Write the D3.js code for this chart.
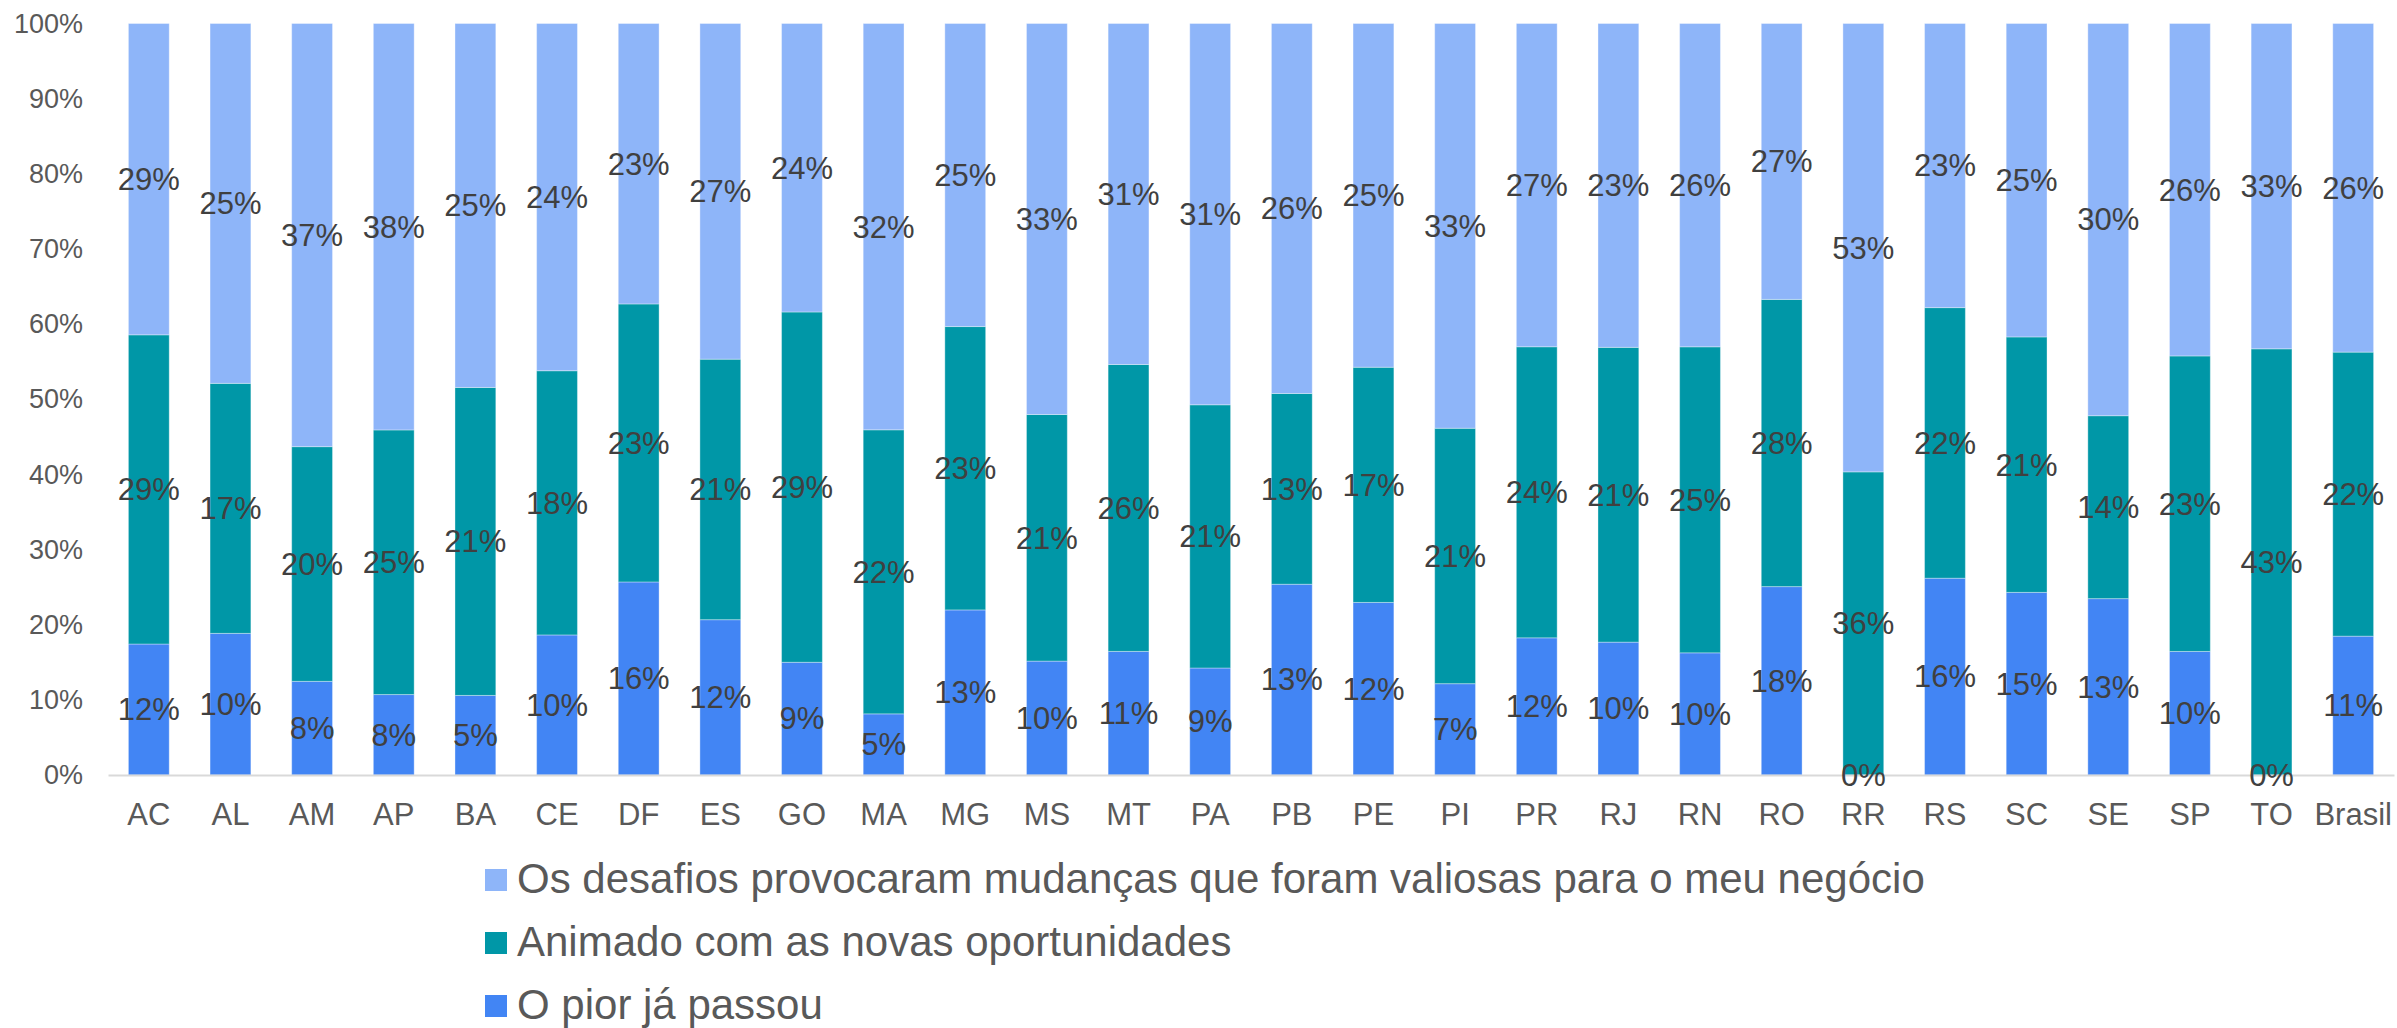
<!DOCTYPE html>
<html>
<head>
<meta charset="utf-8">
<script src="https://cdn.jsdelivr.net/npm/d3@7"></script>
<style>
  body { margin: 0; background: #ffffff; }
  svg { display: block; font-family: "Liberation Sans", Arial, sans-serif; }
  .axis text { fill: #595959; }
  .label { fill: #404040; }
</style>
</head>
<body>
<svg width="2397" height="1028"></svg>
<script>
//Categories (states + Brazil) in the order of the x axis
let estados = ["AC", "AL", "AM", "AP", "BA", "CE", "DF", "ES", "GO", "MA", "MG", "MS", "MT", "PA",
               "PB", "PE", "PI", "PR", "RJ", "RN", "RO", "RR", "RS", "SC", "SE", "SP", "TO", "Brasil"];

//Answer shares (%), one array per series
let piorPassou = [12.2, 9.8, 8.1, 7.6, 5.4, 9.7, 15.9, 12.4, 9.3, 4.8, 13.4, 9.7, 11.2, 8.7,
                  13.2, 12.4, 7.4, 11.5, 9.6, 9.9, 18.3, 0, 16.0, 14.8, 13.4, 9.7, 0, 10.9];
let animado = [28.8, 17.3, 20.3, 25.0, 20.9, 18.3, 22.9, 20.8, 28.9, 22.3, 23.0, 21.0, 26.0, 21.4,
               13.2, 16.9, 20.7, 24.4, 21.3, 24.8, 27.9, 35.9, 22.0, 20.7, 13.9, 23.2, 43.1, 22.3];
let desafios = [29.0, 24.9, 36.6, 38.4, 24.7, 24.05, 23.1, 26.8, 23.8, 31.9, 24.6, 33.3, 30.9, 31.0,
                25.6, 24.7, 32.8, 27.1, 23.4, 26.2, 26.8, 53.1, 23.1, 25.4, 29.8, 26.1, 32.9, 25.8];

//Series names (bottom to top) and their colours
let series = ["O pior já passou", "Animado com as novas oportunidades",
              "Os desafios provocaram mudanças que foram valiosas para o meu negócio"];
let cores = ["#4285F4", "#0097A7", "#8EB5F9"];
let yTicks = [0, 0.1, 0.2, 0.3, 0.4, 0.5, 0.6, 0.7, 0.8, 0.9, 1];

//Build rows for d3.stack
let rows = estados.map(function(e, i) {
  let r = {estado: e};
  r[series[0]] = piorPassou[i];
  r[series[1]] = animado[i];
  r[series[2]] = desafios[i];
  return r;
});

let svg = d3.select("svg"),
    margin = {top: 23.5, left: 108, right: 3},
    width = +svg.attr("width"),
    baseY = 775;

let x = d3.scaleBand().domain(estados).range([margin.left, width - margin.right])
    .paddingInner(0.5).paddingOuter(0.25);
let y = d3.scaleLinear().domain([0, 1]).range([baseY, margin.top]);

//100% stacked layout
let stacked = d3.stack().keys(series).offset(d3.stackOffsetExpand)(rows);

let layers = svg.append("g").selectAll("g")
    .data(stacked)
    .enter().append("g")
    .attr("fill", function(d, i) { return cores[i]; });

layers.selectAll("rect")
    .data(function(d) { return d; })
    .enter().append("rect")
    .attr("x", function(d) { return x(d.data.estado); })
    .attr("y", function(d) { return y(d[1]); })
    .attr("width", x.bandwidth())
    .attr("height", function(d) { return y(d[0]) - y(d[1]); })
    .attr("stroke", "rgba(255,255,255,0.35)")
    .attr("stroke-width", 1);

//Y axis (no line, only labels)
let yAxis = svg.append("g")
    .attr("class", "axis")
    .attr("transform", "translate(" + margin.left + ",0)")
    .call(d3.axisLeft(y).tickValues(yTicks).tickFormat(d3.format(".0%")).tickSize(0).tickPadding(25));
yAxis.select(".domain").remove();
yAxis.selectAll("text").style("font-size", "27px");

//X axis with light baseline
let xAxis = svg.append("g")
    .attr("class", "axis")
    .attr("transform", "translate(0," + baseY + ")")
    .call(d3.axisBottom(x).tickSize(0).tickSizeOuter(0).tickPadding(28));
xAxis.select(".domain").attr("stroke", "#d9d9d9").attr("stroke-width", 2);
xAxis.selectAll("text").style("font-size", "31px");

//Data labels in their own group on top of every bar: raw value in the middle of each segment
let labels = svg.append("g");
stacked.forEach(function(layer) {
  labels.append("g").selectAll("text")
    .data(layer)
    .enter().append("text")
    .attr("class", "label")
    .attr("x", function(d) { return x(d.data.estado) + x.bandwidth() / 2; })
    .attr("y", function(d) { return (y(d[0]) + y(d[1])) / 2; })
    .attr("dy", "0.35em")
    .attr("text-anchor", "middle")
    .style("font-size", "31px")
    .text(function(d) { return Math.round(d.data[layer.key]) + "%"; });
});

//Legend, top series first
let legendOrder = [2, 1, 0];
let legend = svg.append("g").selectAll("g")
    .data(legendOrder)
    .enter().append("g")
    .attr("transform", function(d, i) { return "translate(485," + (880 + i * 63) + ")"; });

legend.append("rect")
    .attr("x", 0)
    .attr("y", -11)
    .attr("width", 22)
    .attr("height", 22)
    .attr("fill", function(d) { return cores[d]; });

legend.append("text")
    .attr("x", 32)
    .attr("dy", "0.3em")
    .attr("fill", "#595959")
    .style("font-size", "42px")
    .text(function(d) { return series[d]; });
</script>
</body>
</html>
